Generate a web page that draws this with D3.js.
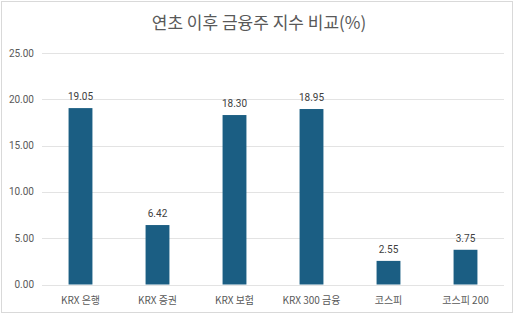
<!DOCTYPE html>
<html>
<head>
<meta charset="utf-8">
<script src="https://cdn.jsdelivr.net/npm/d3@7"></script>
<style>
  html, body { margin: 0; padding: 0; background: #fff; }
  svg { display: block; font-family: "Noto Sans CJK KR", Roboto, sans-serif; }
</style>
</head>
<body>
<div id="chart"></div>
<script>
const categories = ['KRX 은행', 'KRX 증권', 'KRX 보험', 'KRX 300 금융', '코스피', '코스피 200'];
const values = [19.05, 6.42, 18.30, 18.95, 2.55, 3.75];
const yTicks = [0, 5, 10, 15, 20, 25];

const width = 518, height = 317;
const margin = { top: 53, right: 14, bottom: 33, left: 42 };

const svg = d3.select('#chart').append('svg')
  .attr('width', width)
  .attr('height', height);

// chart frame
svg.append('rect')
  .attr('x', 1.5).attr('y', 1.5)
  .attr('width', 511).attr('height', 311)
  .attr('fill', '#fff')
  .attr('stroke', '#d9d9d9');

svg.append('text')
  .attr('x', 259).attr('y', 29)
  .attr('text-anchor', 'middle')
  .attr('font-size', 17)
  .attr('fill', '#595959')
  .text('연초 이후 금융주 지수 비교(%)');

const x = d3.scaleBand()
  .domain(categories)
  .range([margin.left, width - margin.right])
  .paddingInner(0.69)
  .paddingOuter(0.345);

const y = d3.scaleLinear()
  .domain([0, 25])
  .range([height - margin.bottom + 0.5, margin.top]);

// gridlines
svg.append('g')
  .selectAll('line')
  .data(yTicks)
  .join('line')
  .attr('x1', margin.left)
  .attr('x2', width - margin.right)
  .attr('y1', (d) => Math.round(y(d)) + 0.5)
  .attr('y2', (d) => Math.round(y(d)) + 0.5)
  .attr('stroke', '#e3e3e3');

// y labels
svg.append('g')
  .selectAll('text')
  .data(yTicks)
  .join('text')
  .attr('x', 34)
  .attr('y', (d) => y(d))
  .attr('dy', '0.35em')
  .attr('text-anchor', 'end')
  .attr('font-size', 10)
  .attr('font-family', 'Roboto, sans-serif')
  .attr('fill', '#595959')
  .text((d) => d.toFixed(2));

// bars
svg.append('g')
  .selectAll('rect')
  .data(values)
  .join('rect')
  .attr('x', (d, i) => x(categories[i]))
  .attr('width', x.bandwidth())
  .attr('y', (d) => y(d))
  .attr('height', (d) => y(0) - y(d))
  .attr('fill', '#1b5e83');

// value labels
svg.append('g')
  .selectAll('text')
  .data(values)
  .join('text')
  .attr('x', (d, i) => x(categories[i]) + x.bandwidth() / 2)
  .attr('y', (d) => y(d) - 8)
  .attr('text-anchor', 'middle')
  .attr('font-size', 10)
  .attr('font-family', 'Roboto, sans-serif')
  .attr('fill', '#404040')
  .text((d) => d.toFixed(2));

// category labels
svg.append('g')
  .selectAll('text')
  .data(categories)
  .join('text')
  .attr('x', (d) => x(d) + x.bandwidth() / 2)
  .attr('y', 304)
  .attr('text-anchor', 'middle')
  .attr('font-size', 10)
  .attr('fill', '#595959')
  .text((d) => d);
</script>
</body>
</html>
